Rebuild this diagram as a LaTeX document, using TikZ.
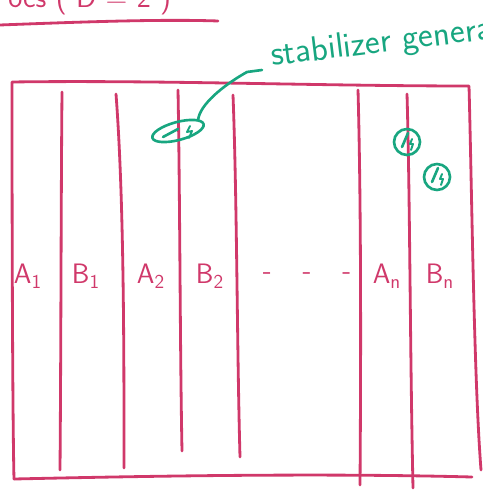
\documentclass[tikz,border=0pt]{standalone}
\usepackage{tikz}
\usetikzlibrary{positioning,calc,shapes.geometric}
\definecolor{tinta}{RGB}{208,56,106}
\definecolor{nota}{RGB}{24,166,128}

% slash and little zigzag inside a green ring
\newcommand{\marca}[1]{%
  \draw[gpen] ($(#1)+(-5,5)$) -- ($(#1)+(1,-9)$);
  \draw[gpen, line width=1.1pt] ($(#1)+(5,-3)$) -- ($(#1)+(3,2)$) -- ($(#1)+(6,2)$) -- ($(#1)+(4,8)$);}

\begin{document}
\begin{tikzpicture}[x=0.02cm, y=-0.02cm,
    font=\sffamily,
    pen/.style={draw=tinta, line width=1.6pt, line cap=round, line join=round},
    gpen/.style={draw=nota, line width=1.5pt, line cap=round, line join=round},
    lbl/.style={text=tinta, font=\sffamily\fontsize{16}{19}\selectfont, inner sep=0pt},
    anillo/.style={gpen, circle, minimum size=0.52cm, inner sep=0pt}
]
\useasboundingbox (0,0) rectangle (482,492);

% title, cut at the top edge
\node[anchor=base west, text=tinta, inner sep=0pt,
      font=\sffamily\fontsize{17}{20}\selectfont] (titulo) at (8,8) {ocs ( D = 2 )};
\draw[pen] (0,25) .. controls (80,22) and (160,19) .. (218,21);

% outer box
\draw[pen] (14,479) .. controls (13,440) and (12,300) .. (12,82)
           .. controls (160,80) and (320,86) .. (469,86)
           .. controls (472,200) and (474,380) .. (481,470);
\draw[pen] (14,479) .. controls (150,476) and (320,473) .. (472,477);

% column walls
\foreach \xt/\yt/\xm/\xb/\yb in {62/92/61/60/470, 116/94/124/124/468,
    178/90/180/182/451, 233/95/237/240/457, 358/90/361/360/485, 407/94/410/413/488}
  \draw[pen] (\xt,\yt) .. controls (\xm,200) and (\xm,350) .. (\xb,\yb);

% column labels
\node[lbl] (a1) at (28,276)  {A\textsubscript{1}};
\node[lbl] (b1) at (86,276)  {B\textsubscript{1}};
\node[lbl] (a2) at (151,276) {A\textsubscript{2}};
\node[lbl] (b2) at (210,276) {B\textsubscript{2}};
\node[lbl] (puntos) at (307,276) {-\hspace{1.1em}-\hspace{1.1em}-};
\node[lbl] (an) at (387,276) {A\textsubscript{n}};
\node[lbl] (bn) at (440,276) {B\textsubscript{n}};

% stabilizer note
\node[anchor=base west, text=nota, rotate=7, inner sep=0pt,
      font=\sffamily\fontsize{20}{23}\selectfont] (stab) at (272,66) {stabilizer generator};
\node[gpen, ellipse, minimum width=1.06cm, minimum height=0.36cm,
      inner sep=0pt, rotate=15] (par) at (178,131) {};
\draw[gpen] (163,137) -- (178,129);
\draw[gpen, line width=1.1pt] (190,126) -- (187,132) -- (192,131) -- (189,138);

\coordinate (ini) at ($(stab.base west)+(-10,4)$);
\draw[gpen] (ini) -- ++(-15,2) .. controls (222,86) and (200,105) .. (par.15);

\node[anillo] (g1) at (407,142) {};
\node[anillo] (g2) at (437,177) {};
\marca{g1}
\marca{g2}

\end{tikzpicture}
\end{document}
